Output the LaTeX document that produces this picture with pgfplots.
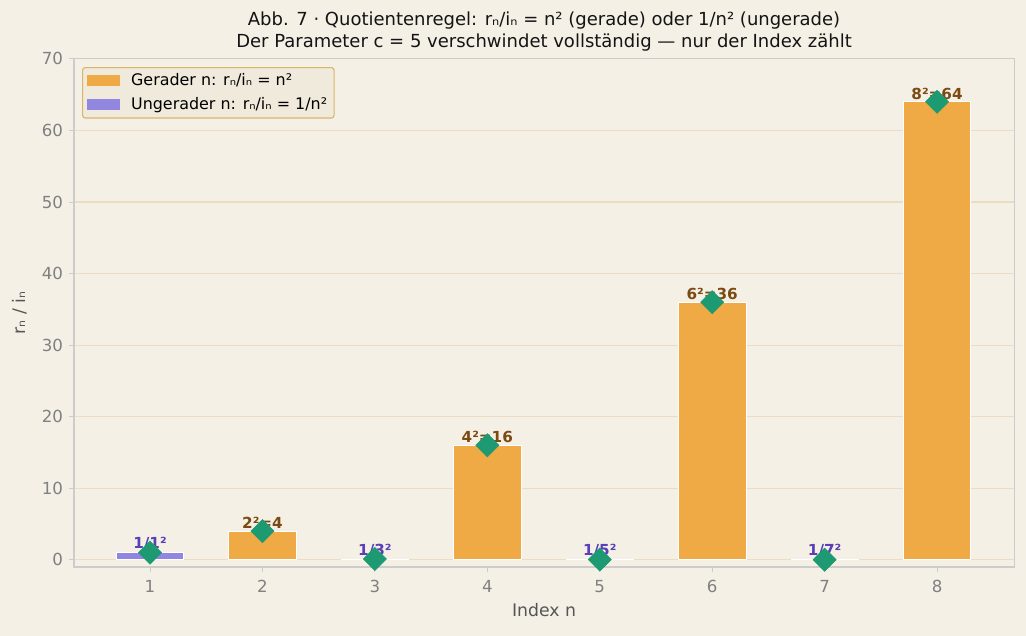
\documentclass[border=0pt]{standalone}
\usepackage{pgfplots}
\pgfplotsset{compat=1.18}
\usepackage{fontspec}
\setmainfont{DejaVu Sans}

\definecolor{bgc}{HTML}{F5F0E6}
\definecolor{evenc}{HTML}{F0AA45}
\definecolor{oddc}{HTML}{9187E0}
\definecolor{dia}{HTML}{1E9A72}
\definecolor{labbrown}{HTML}{7B4A12}
\definecolor{labpurple}{HTML}{5A3FB8}
\definecolor{gridc}{HTML}{EBDCC3}
\definecolor{framec}{HTML}{CCCCCC}
\definecolor{tickc}{HTML}{808080}
\definecolor{labc}{HTML}{555555}
\definecolor{legbg}{HTML}{F0EADC}
\definecolor{legedge}{HTML}{D9B56A}

\pgfplotstableread{
x y
2 4
4 16
6 36
8 64
}\evendata

\pgfplotstableread{
x y
1 1
3 0.1111
5 0.04
7 0.0204
}\odddata

\pgfplotstableread{
x y lab
2 4 2²=4
4 16 4²=16
6 36 6²=36
8 64 8²=64
}\evenlabels

\pgfplotstableread{
x y lab
1 1 1/1²
3 0.1111 1/3²
5 0.04 1/5²
7 0.0204 1/7²
}\oddlabels

\pgfplotstableread{
x y
1 1
2 4
3 0.1111
4 16
5 0.04
6 36
7 0.0204
8 64
}\alldata

\begin{document}
\begin{tikzpicture}
\fill[bgc] (-53.3bp,-49.7bp) rectangle (685.4bp,408.2bp);
\useasboundingbox (-53.3bp,-49.7bp) rectangle (685.4bp,408.2bp);
\begin{axis}[
    at={(0,0)}, anchor=south west,
    scale only axis,
    width=676.8bp, height=365.8bp,
    xmin=0.324, xmax=8.685,
    ymin=-1, ymax=70,
    xtick={1,...,8},
    ytick={0,10,...,70},
    xtick pos=bottom, ytick pos=left,
    tick align=outside,
    major tick length=3.5bp,
    tick style={framec, line width=0.6pt},
    axis line style={framec, line width=0.8pt},
    ymajorgrids,
    grid style={gridc, line width=0.8pt},
    axis background/.style={fill=bgc},
    bar width=0.6,
    clip=false,
    /pgf/number format/assume math mode=true,
    ticklabel style={font=\fontsize{12}{14}\selectfont, text=tickc},
    xticklabel style={yshift=-2.5bp},
    yticklabel style={xshift=-1bp},
    xlabel={Index n},
    ylabel={rₙ / iₙ},
    label style={font=\fontsize{12.5}{15}\selectfont, text=labc},
    xlabel style={yshift=-1bp},
    ylabel style={yshift=4bp},
    title={Abb. 7 · Quotientenregel: rₙ/iₙ = n² (gerade) oder 1/n² (ungerade)\\Der Parameter c = 5 verschwindet vollständig — nur der Index zählt},
    title style={font=\fontsize{13}{16}\selectfont, align=center, yshift=-4bp, text=black!92},
    legend style={at={(0.0085,0.984)}, anchor=north west,
        fill=legbg, draw=legedge, line width=0.8pt, rounded corners=2pt,
        font=\fontsize{11.5}{14}\selectfont, row sep=3pt, inner xsep=3pt, inner ysep=2.5pt},
    legend cell align=left,
]
\addplot[ybar, bar shift=0pt, fill=evenc, draw=white, line width=0.5pt,
    area legend, legend image code/.code={\fill[evenc, draw=none, sharp corners] (0bp,-4bp) rectangle (24bp,4bp);
        \path[draw=none, fill=none] (0bp,0bp) -- (30bp,0bp);}]
    table[x=x, y=y] {\evendata};
\addlegendentry{Gerader n: rₙ/iₙ = n²}
\addplot[ybar, bar shift=0pt, fill=oddc, draw=white, line width=0.5pt,
    area legend, legend image code/.code={\fill[oddc, draw=none, sharp corners] (0bp,-4bp) rectangle (24bp,4bp);
        \path[draw=none, fill=none] (0bp,0bp) -- (30bp,0bp);}]
    table[x=x, y=y] {\odddata};
\addlegendentry{Ungerader n: rₙ/iₙ = 1/n²}

\addplot[draw=none, mark=none, forget plot, nodes near coords, point meta=explicit symbolic,
    nodes near coords style={anchor=south, inner sep=1pt, yshift=0.5bp,
        font=\bfseries\fontsize{11}{13}\selectfont, text=labbrown}]
    table[x=x, y=y, meta=lab] {\evenlabels};
\addplot[draw=none, mark=none, forget plot, nodes near coords, point meta=explicit symbolic,
    nodes near coords style={anchor=south, inner sep=1pt, yshift=0.5bp,
        font=\bfseries\fontsize{11}{13}\selectfont, text=labpurple}]
    table[x=x, y=y, meta=lab] {\oddlabels};

\addplot[only marks, forget plot, mark=square*, mark size=5.9bp,
    mark options={rotate=45, fill=dia, draw=dia}]
    table[x=x, y=y] {\alldata};
\end{axis}
\end{tikzpicture}
\end{document}
